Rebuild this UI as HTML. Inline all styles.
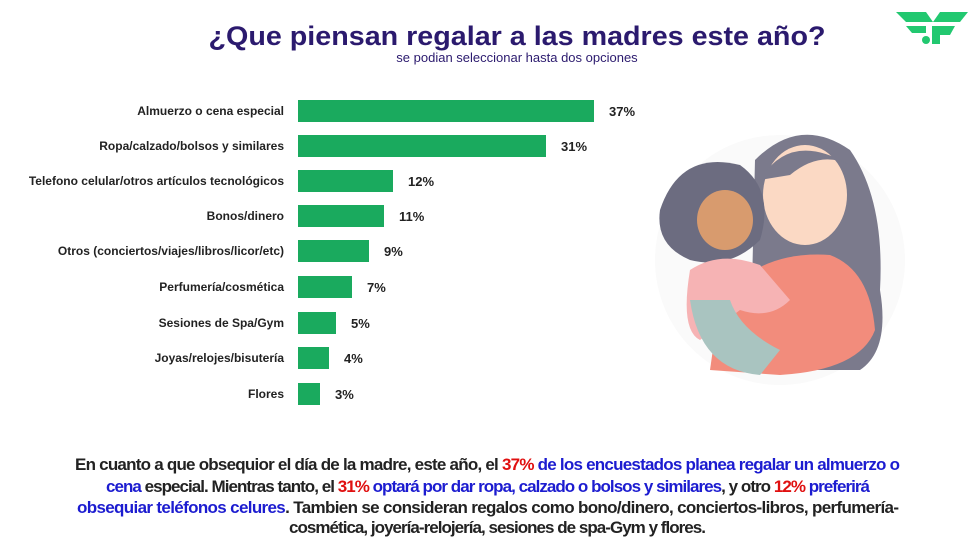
<!DOCTYPE html>
<html><head><meta charset="utf-8"><style>
html,body{margin:0;padding:0;background:#fff;width:979px;height:537px;overflow:hidden}
svg{display:block;font-family:"Liberation Sans",sans-serif}
</style></head><body>
<svg width="979" height="537" viewBox="0 0 979 537">
<text x="517" y="45" text-anchor="middle" font-size="27" font-weight="bold" fill="#2b1a6e" textLength="617" lengthAdjust="spacingAndGlyphs">¿Que piensan regalar a las madres este año?</text>
<text x="517" y="62" text-anchor="middle" font-size="13" fill="#2b1a6e">se podian seleccionar hasta dos opciones</text>
<!-- logo -->
<g fill="#22c870">
<path d="M896 12 L926 12 L933 22 L906 22 Z"/><path d="M968 12 L940 12 L933 22 L960 22 Z"/>
<path d="M906 26 L926 26 L926 33 L912 33 Z"/>
<path d="M932 26 L955 26 L950 35 L940 35 L940 44 L932 44 Z"/>
<circle cx="926" cy="40" r="4"/>
</g>
<g font-size="12" fill="#222" text-anchor="end" font-weight="bold">
<text x="284" y="115">Almuerzo o cena especial</text>
<text x="284" y="150">Ropa/calzado/bolsos y similares</text>
<text x="284" y="185">Telefono celular/otros artículos tecnológicos</text>
<text x="284" y="220">Bonos/dinero</text>
<text x="284" y="255">Otros (conciertos/viajes/libros/licor/etc)</text>
<text x="284" y="291">Perfumería/cosmética</text>
<text x="284" y="327">Sesiones de Spa/Gym</text>
<text x="284" y="362">Joyas/relojes/bisutería</text>
<text x="284" y="398">Flores</text>
</g>
<g fill="#1aaa5e">
<rect x="298" y="100" width="296" height="22"/>
<rect x="298" y="135" width="248" height="22"/>
<rect x="298" y="170" width="95" height="22"/>
<rect x="298" y="205" width="86" height="22"/>
<rect x="298" y="240" width="71" height="22"/>
<rect x="298" y="276" width="54" height="22"/>
<rect x="298" y="312" width="38" height="22"/>
<rect x="298" y="347" width="31" height="22"/>
<rect x="298" y="383" width="22" height="22"/>
</g>
<g font-size="13" font-weight="bold" fill="#222">
<text x="609" y="116">37%</text><text x="561" y="151">31%</text><text x="408" y="186">12%</text>
<text x="399" y="221">11%</text><text x="384" y="256">9%</text><text x="367" y="292">7%</text>
<text x="351" y="328">5%</text><text x="344" y="363">4%</text><text x="335" y="399">3%</text>
</g>
<!-- illustration -->
<circle cx="780" cy="260" r="125" fill="#fafafa"/>
<path d="M755 160 Q800 115 850 150 Q885 200 880 290 Q890 350 860 370 L750 370 Z" fill="#7b7a8c"/>
<ellipse cx="805" cy="195" rx="42" ry="50" fill="#fbd9c4"/>
<path d="M760 180 Q790 130 850 165 Q820 150 790 175 Z" fill="#7b7a8c"/>
<path d="M720 300 Q760 250 830 255 Q870 270 875 330 Q860 370 780 375 L710 370 Z" fill="#f28c7c"/>
<path d="M660 210 Q680 150 740 165 Q775 190 760 240 Q730 270 690 260 Q655 245 660 210 Z" fill="#6c6c80"/>
<ellipse cx="725" cy="220" rx="28" ry="30" fill="#d89b6e"/>
<path d="M690 270 Q720 250 760 265 L790 300 Q770 320 740 310 L700 340 Q680 330 690 270 Z" fill="#f6b3b4"/>
<path d="M690 300 Q700 370 760 375 L780 350 Q740 330 730 300 Z" fill="#a9c4c0"/>
<g font-size="17" font-weight="bold" fill="#222" text-anchor="start" lengthAdjust="spacingAndGlyphs">
<text x="75" y="470" textLength="825">En cuanto a que obsequior el día de la madre, este año, el <tspan fill="#e01010">37%</tspan> <tspan fill="#1c1cd0">de los encuestados planea regalar un almuerzo o</tspan></text>
<text x="106" y="492" textLength="764"><tspan fill="#1c1cd0">cena</tspan> especial. Mientras tanto, el <tspan fill="#e01010">31%</tspan> <tspan fill="#1c1cd0">optará por dar ropa, calzado o bolsos y similares</tspan>, y otro <tspan fill="#e01010">12%</tspan> <tspan fill="#1c1cd0">preferirá</tspan></text>
<text x="77" y="513" textLength="822"><tspan fill="#1c1cd0">obsequiar teléfonos celures</tspan>. Tambien se consideran regalos como bono/dinero, conciertos-libros, perfumería-</text>
<text x="289" y="533" textLength="417">cosmética, joyería-relojería, sesiones de spa-Gym y flores.</text>
</g>
</svg>
</body></html>
